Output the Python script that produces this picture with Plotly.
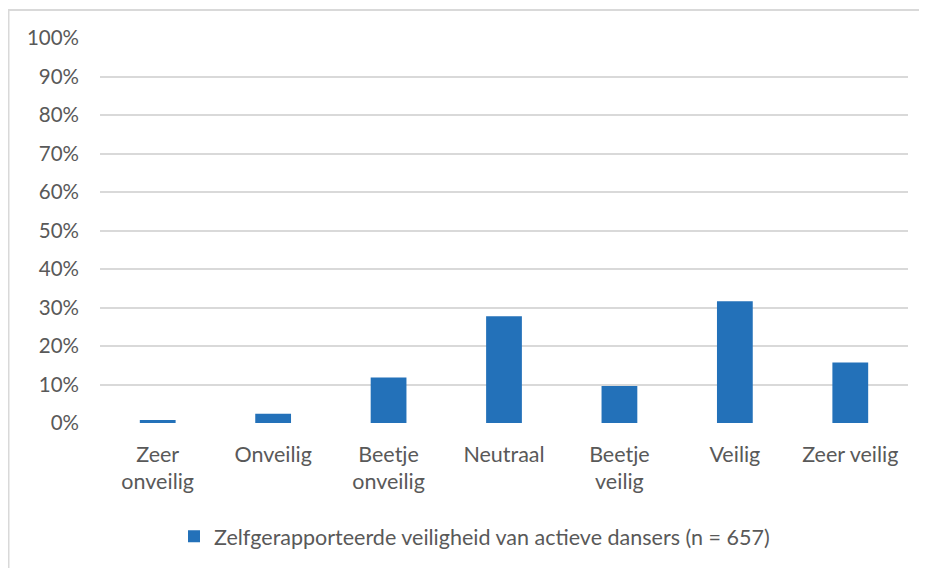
import plotly.graph_objects as go

categories = ["Zeer<br>onveilig", "Onveilig", "Beetje<br>onveilig", "Neutraal",
              "Beetje<br>veilig", "Veilig", "Zeer veilig"]
values = [0.8, 2.4, 11.8, 27.7, 9.6, 31.6, 15.7]
series_name = "Zelfgerapporteerde veiligheid van actieve dansers (n = 657)"
tick_vals = [0, 10, 20, 30, 40, 50, 60, 70, 80, 90, 100]
tick_text = [f"{v}%" for v in tick_vals]

OFF = 8  # default page body margin
PW, PH = 927, 568          # page size
W, H = PW - OFF, PH - OFF  # figure size
# plot area in page pixels
X0, X1, Y0, Y1 = 100, 908, 37.5, 423.5
L, R, T, B = X0 - OFF, PW - X1, Y0 - OFF, PH - Y1
pw, ph = X1 - X0, Y1 - Y0

def px_x(x):
    return (x - X0) / pw

def px_y(y):
    return (Y1 - y) / ph

font = dict(family="Lato, Carlito, Open Sans, sans-serif", size=21.5, color="#595959")
yfont = dict(family="Lato, Carlito, Open Sans, sans-serif", size=20.5, color="#595959")

fig = go.Figure()
fig.add_trace(go.Bar(x=categories, y=values, name=series_name,
                     marker=dict(color="#2371B9", line=dict(width=0)),
                     showlegend=True))

fig.update_layout(
    width=W, height=H,
    margin=dict(l=L, r=R, t=T, b=B, autoexpand=False),
    paper_bgcolor="white", plot_bgcolor="white",
    font=font,
    bargap=0.69,
    xaxis=dict(showgrid=False, zeroline=False, showline=False, ticks="",
               tickfont=font, fixedrange=True, ticklabelstandoff=16),
    yaxis=dict(range=[0, 100], tickvals=tick_vals, ticktext=tick_text,
               showgrid=True, gridcolor="#d9d9d9", gridwidth=1.6,
               zeroline=False, showline=False, ticks="", tickfont=yfont,
               ticklabelstandoff=20),
    legend=dict(orientation="h", x=px_x(174), xanchor="left",
                y=px_y(537), yanchor="middle", font=font,
                bgcolor="rgba(0,0,0,0)", itemwidth=30),
    shapes=[dict(type="rect", xref="paper", yref="paper",
                 x0=px_x(8.5), x1=px_x(960), y0=px_y(600), y1=px_y(9.5),
                 line=dict(color="#d9d9d9", width=2), fillcolor="rgba(0,0,0,0)",
                 layer="below")],
)

fig.write_html("out.html")
